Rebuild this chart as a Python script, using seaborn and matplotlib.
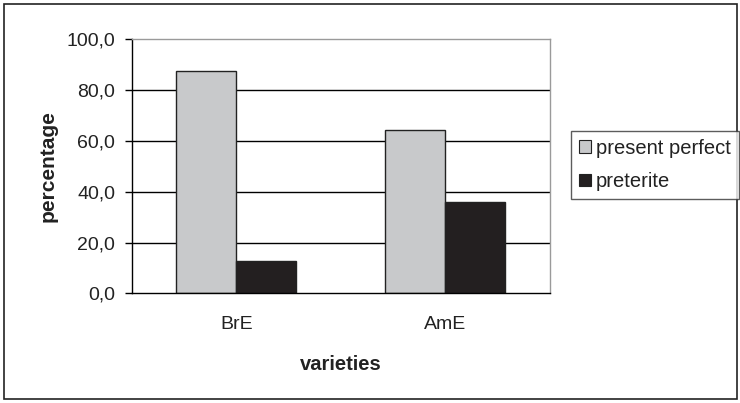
import matplotlib
matplotlib.use("Agg")
import matplotlib.pyplot as plt
import matplotlib.patches as mpatches
import pandas as pd
import seaborn as sns

# values
varieties = ["BrE", "AmE"]
present_perfect = [87.4, 64.2]
preterite = [12.6, 35.8]
series_names = ["present perfect", "preterite"]
y_ticks = [0, 20, 40, 60, 80, 100]

df = pd.DataFrame({
    "variety": varieties * 2,
    "tense": [series_names[0]] * 2 + [series_names[1]] * 2,
    "value": present_perfect + preterite,
})

sns.set_style("white")
plt.rcParams["font.family"] = ["Liberation Sans", "DejaVu Sans"]
txt_color = "#222222"

fig = plt.figure(figsize=(7.4, 4.03), dpi=100)
ax = fig.add_axes([0.178, 0.272, 0.565, 0.630])

sns.barplot(data=df, x="variety", y="value", hue="tense", order=varieties,
            hue_order=series_names, palette=["#c8c9cb", "#231f20"],
            width=0.575, gap=0, edgecolor="#222222", linewidth=1.0,
            saturation=1, ax=ax, legend=False)

ax.set_ylim(0, 100)
ax.set_xlim(-0.5, 1.5)
ax.set_yticks(y_ticks)
ax.set_yticklabels([f"{v:.1f}".replace(".", ",") for v in y_ticks], fontsize=14, color=txt_color)
for v in y_ticks[1:-1]:
    ax.axhline(v, color="black", linewidth=1.0, zorder=0)

# category tick marks sit between groups
ax.set_xticks([0, 1])
ax.set_xticklabels(varieties, fontsize=14, color=txt_color)
ax.set_xticks([-0.5, 0.5, 1.5], minor=True)
ax.tick_params(axis="x", which="major", length=0, pad=16)
ax.tick_params(axis="x", which="minor", length=5, width=1, color="black", direction="out")
ax.tick_params(axis="y", length=5, width=1, color="black", direction="out", left=True, pad=7)

for side in ["left", "bottom"]:
    ax.spines[side].set_color("black")
    ax.spines[side].set_linewidth(1.0)
for side in ["top", "right"]:
    ax.spines[side].set_color("#9a9a9a")
    ax.spines[side].set_linewidth(1.0)

ax.set_xlabel("varieties", fontsize=14.5, fontweight="bold", labelpad=16, color=txt_color)
ax.set_ylabel("percentage", fontsize=15, fontweight="bold", labelpad=6, color=txt_color)

handles = [mpatches.Patch(facecolor=c, edgecolor="#222222", linewidth=0.8, label=n)
           for c, n in zip(["#c8c9cb", "#231f20"], series_names)]
leg = fig.legend(handles=handles, loc="upper left", bbox_to_anchor=(0.771, 0.676),
                 fontsize=14.5, frameon=True, fancybox=False, edgecolor="#333333",
                 handlelength=0.6, handleheight=0.6, handletextpad=0.25,
                 borderpad=0.4, labelspacing=0.72, borderaxespad=0)
leg.get_frame().set_linewidth(1.0)
for t in leg.get_texts():
    t.set_color(txt_color)

# outer chart border
fig.patches.append(mpatches.Rectangle((0.006, 0.01), 0.99, 0.98, transform=fig.transFigure,
                                      fill=False, edgecolor="#222222", linewidth=1.2))

fig.savefig("out.png", dpi=100)
